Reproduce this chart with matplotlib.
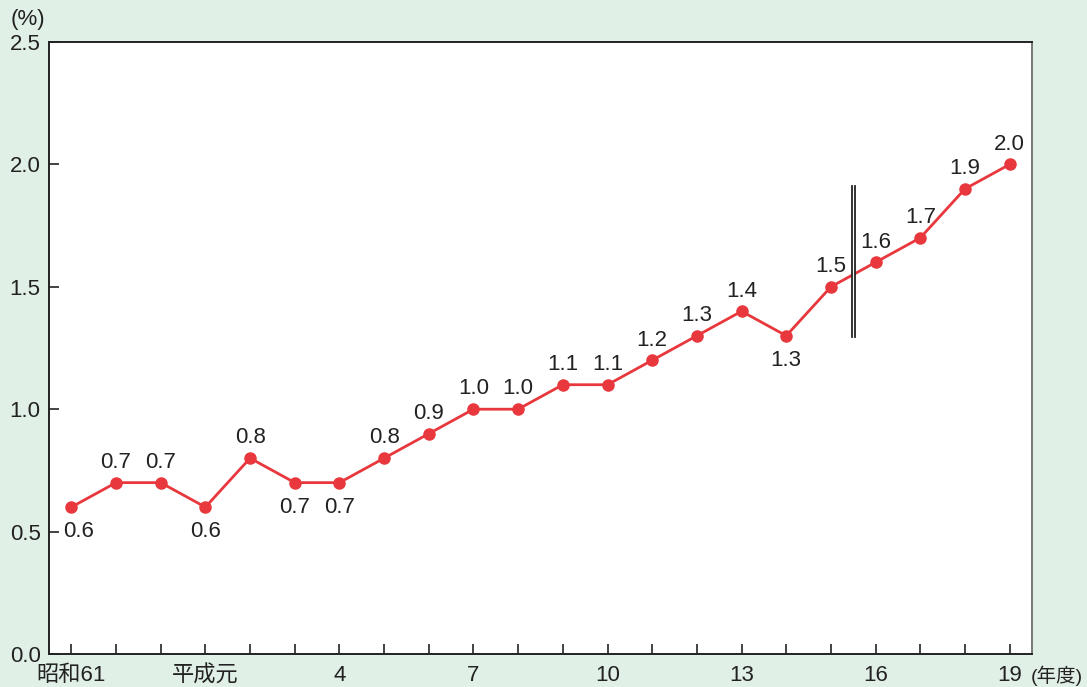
import matplotlib
matplotlib.use("Agg")
import matplotlib.pyplot as plt
from matplotlib.patches import Rectangle

plt.rcParams['font.family'] = ['Liberation Sans', 'Noto Sans CJK JP', 'DejaVu Sans']

years = ["昭和61", "62", "63", "平成元", "2", "3", "4", "5", "6", "7", "8",
         "9", "10", "11", "12", "13", "14", "15", "16", "17", "18", "19"]
rates = [0.6, 0.7, 0.7, 0.6, 0.8, 0.7, 0.7, 0.8, 0.9, 1.0, 1.0,
         1.1, 1.1, 1.2, 1.3, 1.4, 1.3, 1.5, 1.6, 1.7, 1.9, 2.0]
shown_ticks = ["昭和61", "平成元", "4", "7", "10", "13", "16", "19"]
below = {0, 3, 5, 6, 16}

bg = "#e1f0e6"
red = "#e8383d"
ink = "#222222"

fig = plt.figure(figsize=(10.87, 6.87), dpi=100, facecolor=bg)
ax = fig.add_axes([49 / 1087, 33 / 687, 983 / 1087, 612 / 687])
ax.set_facecolor("white")

x = list(range(len(years)))
ax.plot(x, rates, color=red, lw=2, marker="o", ms=8, zorder=3)

for i, v in enumerate(rates):
    if i in below:
        dx = 5 if i == 0 else 0
        ax.annotate(f"{v:.1f}", (i, v), xytext=(dx, -10), textcoords="offset points",
                    ha="center", va="top", fontsize=16, color=ink)
    else:
        ax.annotate(f"{v:.1f}", (i, v), xytext=(0, 7), textcoords="offset points",
                    ha="center", va="bottom", fontsize=16, color=ink)

# break marker between 15 and 16
ax.add_patch(Rectangle((17.47, 1.295), 0.07, 0.615, facecolor="white",
                       edgecolor="none", zorder=4))
ax.plot([17.47, 17.47], [1.295, 1.91], color=ink, lw=1.3, zorder=5)
ax.plot([17.54, 17.54], [1.295, 1.91], color=ink, lw=1.3, zorder=5)

ax.set_xlim(-0.5, 21.5)
ax.set_ylim(0, 2.5)
ax.set_yticks([0, 0.5, 1.0, 1.5, 2.0, 2.5])
ax.set_yticklabels([f"{t:.1f}" for t in [0, 0.5, 1.0, 1.5, 2.0, 2.5]])
ax.set_xticks(x)
ax.set_xticklabels([y if y in shown_ticks else "" for y in years])
ax.tick_params(axis="both", direction="in", length=7, width=1.2, color=ink,
               labelsize=16, labelcolor=ink)
ax.tick_params(axis="x", pad=8)
ax.tick_params(axis="y", pad=6)
for s in ax.spines.values():
    s.set_color(ink)
    s.set_linewidth(1.4)
ax.spines["right"].set_color("#777777")

fig.text(28 / 1087, 1 - 20 / 687, "(%)", fontsize=16, ha="center", va="center",
         color=ink)
fig.text(1031 / 1087, 1 - 676 / 687, "(年度)", fontsize=14, ha="left",
         va="center", color=ink)

fig.savefig("out.png", dpi=100, facecolor=bg)
